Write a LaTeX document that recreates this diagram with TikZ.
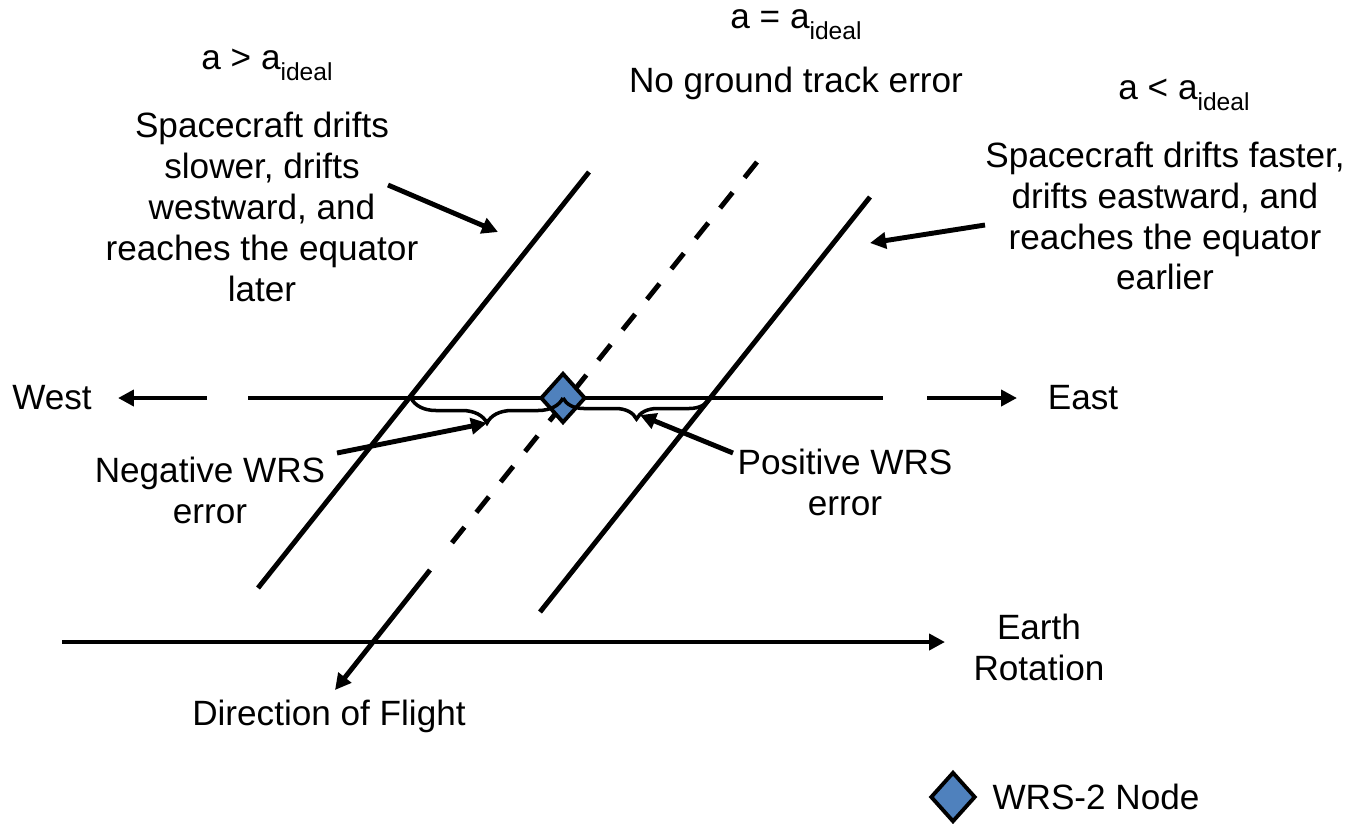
\documentclass[tikz,border=0pt]{standalone}
\usepackage{fontspec}
\setmainfont{Liberation Sans}
\usetikzlibrary{arrows.meta,shapes.geometric,decorations.pathreplacing}
\definecolor{wrsblue}{HTML}{4F81BD}
\newcommand{\aidl}{a\raisebox{-0.32em}{\fontsize{14}{14}\selectfont ideal}}
\begin{document}
\begin{tikzpicture}[x=0.02cm,y=-0.02cm,
  lbl/.style={font=\fontsize{20}{23.3}\selectfont, align=center, inner sep=0},
  mainline/.style={line width=2.8pt},
  arr/.style={mainline,-{Triangle[length=0.32cm,width=0.32cm]}},
  dashline/.style={mainline,dash pattern=on 0.4cm off 0.38cm},
  brc/.style={line width=2pt, decorate, decoration={brace,mirror,amplitude=#1}},
  wrsnode/.style={diamond, draw, line width=2.2pt, fill=wrsblue, minimum width=0.9cm, minimum height=1cm, inner sep=0}
]
\useasboundingbox (0,0) rectangle (1363,823);

% texts
\node[lbl] (ahi) at (267,65) {a > \aidl};
\node[lbl] (aeq) at (796,25) {a = \aidl};
\node[lbl] (noerr) at (796,83) {No ground track error};
\node[lbl] (alo) at (1184,95) {a < \aidl};
\node[lbl] (slow) at (262,207) {Spacecraft drifts\\slower, drifts\\westward, and\\reaches the equator\\later};
\node[lbl] (fast) at (1165,216) {Spacecraft drifts faster,\\drifts eastward, and\\reaches the equator\\earlier};
\node[lbl] (west) at (52,398) {West};
\node[lbl] (east) at (1083,398) {East};
\node[lbl] (neg) at (210,490) {Negative WRS\\error};
\node[lbl] (pos) at (845,482) {Positive WRS\\error};
\node[lbl] (earth) at (1039,647) {Earth\\Rotation};
\node[lbl] (dof) at (329,716) {Direction of Flight};

% coordinates
\coordinate (L1) at (258,588); \coordinate (L2) at (589,172);
\coordinate (R1) at (540,612); \coordinate (R2) at (870,197);
\coordinate (C1) at (757,162); \coordinate (C2) at (447,549);
\coordinate (C3) at (430,570); \coordinate (C4) at (335,690);
\coordinate (eqL) at (248,398); \coordinate (eqR) at (883,398);
\coordinate (wA) at (207,398); \coordinate (wT) at (118,398);
\coordinate (eA) at (927,398); \coordinate (eT) at (1017,398);
\coordinate (er1) at (62,642); \coordinate (er2) at (945,642);
\coordinate (sA) at (388,185); \coordinate (sT) at (498,232);
\coordinate (fA) at (985,225); \coordinate (fT) at (870,243);
\coordinate (nA) at (337,453); \coordinate (nT) at (487,423);
\coordinate (pA) at (733,453); \coordinate (pT) at (640,415);
\coordinate (bl) at (411,398); \coordinate (bc) at (563,398); \coordinate (br) at (710,398);

% ground tracks
\draw[mainline] (L1) -- (L2);
\draw[mainline] (R1) -- (R2);
\draw[dashline] (C1) -- (C2);
\draw[arr] (C3) -- (C4);

% equator
\draw[mainline] (eqL) -- (eqR);
\draw[arr] (wA) -- (wT);
\draw[arr] (eA) -- (eT);

% earth rotation
\draw[arr] (er1) -- (er2);

% annotation arrows
\draw[arr] (sA) -- (sT);
\draw[arr] (fA) -- (fT);
\draw[arr] (nA) -- (nT);
\draw[arr] (pA) -- (pT);

% node and braces
\node[wrsnode] (ctr) at (bc) {};
\draw[brc=0.5cm] (bl) -- (bc);
\draw[brc=0.42cm] (bc) -- (br);

% legend
\node[wrsnode] (leg) at (953,797) {};
\node[lbl] (legt) at (1096,797) {WRS-2 Node};
\end{tikzpicture}
\end{document}
